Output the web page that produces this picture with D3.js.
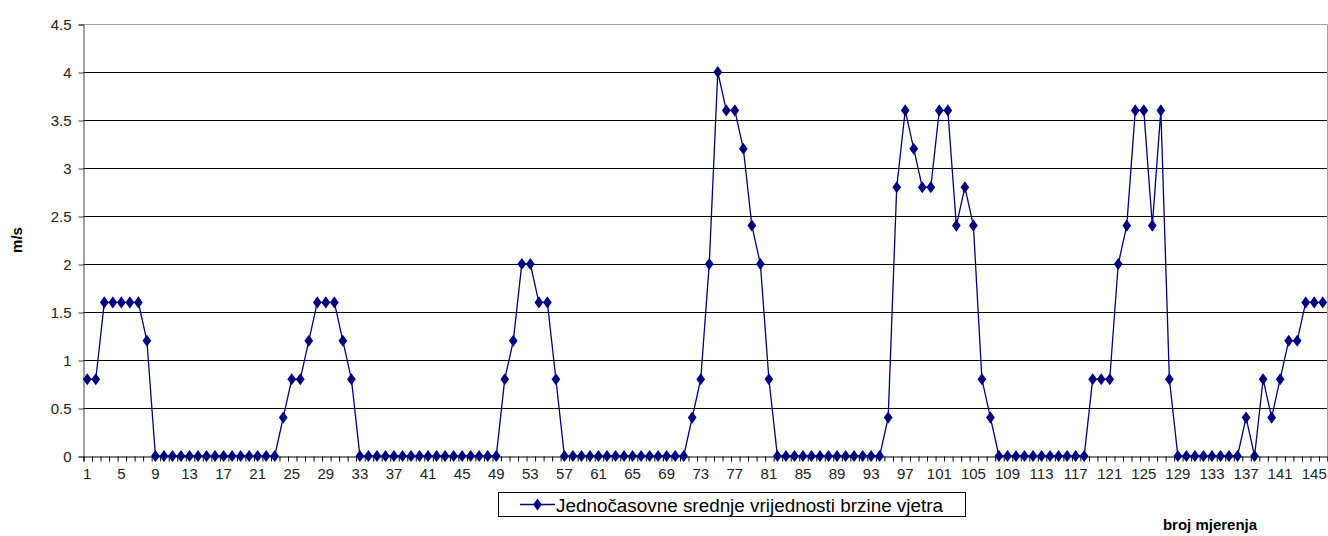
<!DOCTYPE html>
<html>
<head>
<meta charset="utf-8">
<script src="https://cdn.jsdelivr.net/npm/d3@7"></script>
<style>
  html, body { margin: 0; padding: 0; background: #fff; }
  svg { display: block; }
  text { font-family: "Liberation Sans", Arial, sans-serif; }
</style>
</head>
<body>
<svg id="chart" width="1328" height="536"></svg>
<script>
// ---- data ----
const categories = d3.range(1, 147); // measurement numbers 1..146
const windSpeed = [
  0.8, 0.8, 1.6, 1.6, 1.6, 1.6, 1.6, 1.2,
  0, 0, 0, 0, 0, 0, 0, 0, 0, 0, 0, 0, 0, 0, 0,
  0.4, 0.8, 0.8, 1.2, 1.6, 1.6, 1.6, 1.2, 0.8,
  0, 0, 0, 0, 0, 0, 0, 0, 0, 0, 0, 0, 0, 0, 0, 0, 0,
  0.8, 1.2, 2.0, 2.0, 1.6, 1.6, 0.8,
  0, 0, 0, 0, 0, 0, 0, 0, 0, 0, 0, 0, 0, 0, 0,
  0.4, 0.8, 2.0, 4.0, 3.6, 3.6, 3.2, 2.4, 2.0, 0.8,
  0, 0, 0, 0, 0, 0, 0, 0, 0, 0, 0, 0, 0,
  0.4, 2.8, 3.6, 3.2, 2.8, 2.8, 3.6, 3.6, 2.4, 2.8, 2.4, 0.8, 0.4,
  0, 0, 0, 0, 0, 0, 0, 0, 0, 0, 0,
  0.8, 0.8, 0.8, 2.0, 2.4, 3.6, 3.6, 2.4, 3.6, 0.8,
  0, 0, 0, 0, 0, 0, 0, 0,
  0.4, 0, 0.8, 0.4, 0.8, 1.2, 1.2, 1.6, 1.6, 1.6
];
const xTickLabels = [1,5,9,13,17,21,25,29,33,37,41,45,49,53,57,61,65,69,73,77,81,85,89,93,97,101,105,109,113,117,121,125,129,133,137,141,145];
const yTicks = [0, 0.5, 1, 1.5, 2, 2.5, 3, 3.5, 4, 4.5];
const seriesName = "Jednočasovne srednje vrijednosti brzine vjetra";
const yTitle = "m/s";
const xTitle = "broj mjerenja";

// ---- layout ----
const L = 83, R = 1327, T = 24, B = 456;
const color = "#000080";
const svg = d3.select("#chart");

const x = d3.scaleBand().domain(categories).range([L, R]).paddingInner(0).paddingOuter(0);
const xEdge = d3.scaleLinear().domain([0, categories.length]).range([L, R]);
const y = d3.scaleLinear().domain([0, 4.5]).range([B, T]);
const cx = d => x(d) + x.bandwidth() / 2;

// gridlines
svg.append("g").selectAll("line")
  .data(yTicks.filter(v => v > 0 && v < 4.5))
  .join("line")
  .attr("x1", L).attr("x2", R)
  .attr("y1", d => Math.round(y(d)) + 0.5).attr("y2", d => Math.round(y(d)) + 0.5)
  .attr("stroke", "#000").attr("stroke-width", 1);

// plot border top/right (gray)
svg.append("path")
  .attr("d", `M${L},${T + 0.5}H${R + 0.5}V${B}`)
  .attr("fill", "none").attr("stroke", "#a0a0a0").attr("stroke-width", 1);

// y axis
const yAxis = d3.axisLeft(y).tickValues(yTicks).tickSize(5).tickPadding(7)
  .tickFormat(d => d3.format("")(d));
const gy = svg.append("g").attr("transform", `translate(${L + 0.5},0.5)`).call(yAxis);
gy.select(".domain").attr("stroke", "#404040");
gy.selectAll(".tick line").attr("stroke", "#404040");
gy.selectAll(".tick text").attr("font-size", 15).attr("fill", "#222").attr("dy", "0.36em");

// x axis tick marks at category boundaries
const xMarks = d3.axisBottom(xEdge).tickValues(d3.range(0, categories.length + 1)).tickSize(5).tickFormat("");
const gxm = svg.append("g").attr("transform", `translate(0.5,${B + 0.5})`).call(xMarks);
gxm.select(".domain").attr("stroke", "#000");
gxm.selectAll(".tick line").attr("stroke", "#000");

// x axis labels
const xLabels = d3.axisBottom(x).tickValues(xTickLabels).tickSize(0).tickPadding(12);
const gxl = svg.append("g").attr("transform", `translate(0,${B})`).call(xLabels);
gxl.select(".domain").remove();
gxl.selectAll(".tick text").attr("font-size", 15).attr("fill", "#222");

// series line
const line = d3.line().x((d, i) => cx(categories[i])).y(d => y(d));
svg.append("path").datum(windSpeed)
  .attr("d", line).attr("fill", "none")
  .attr("stroke", color).attr("stroke-width", 1.3);

// markers (diamonds)
const diamond = d3.symbol().type(d3.symbolDiamond).size(42);
svg.append("g").selectAll("path")
  .data(windSpeed)
  .join("path")
  .attr("d", diamond)
  .attr("transform", (d, i) => `translate(${cx(categories[i])},${y(d)}) scale(1.25,1)`)
  .attr("fill", color);

// axis titles
svg.append("text")
  .attr("transform", `translate(22,240) rotate(-90)`)
  .attr("text-anchor", "middle")
  .attr("font-size", 15).attr("font-weight", "bold").attr("fill", "#000")
  .text(yTitle);
svg.append("text")
  .attr("x", 1210).attr("y", 530)
  .attr("text-anchor", "middle")
  .attr("font-size", 15).attr("font-weight", "bold").attr("fill", "#000")
  .text(xTitle);

// legend
const lg = svg.append("g");
lg.append("rect").attr("x", 498.5).attr("y", 492.5).attr("width", 467).attr("height", 24)
  .attr("fill", "#fff").attr("stroke", "#000").attr("stroke-width", 1);
lg.append("line").attr("x1", 520).attr("x2", 555).attr("y1", 504.5).attr("y2", 504.5)
  .attr("stroke", color).attr("stroke-width", 1.3);
lg.append("path").attr("d", diamond).attr("transform", "translate(537.5,504.5) scale(1.25,1)").attr("fill", color);
lg.append("text").attr("x", 556).attr("y", 511.5)
  .attr("font-size", 18).attr("fill", "#000")
  .attr("textLength", 387).attr("lengthAdjust", "spacingAndGlyphs")
  .text(seriesName);
</script>
</body>
</html>
